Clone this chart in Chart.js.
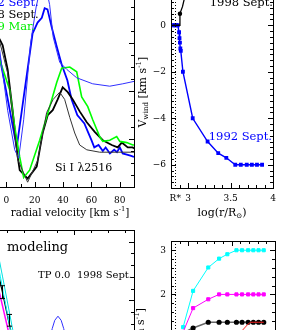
<!DOCTYPE html>
<html>
<head>
<meta charset="utf-8">
<script src="https://cdn.jsdelivr.net/npm/chart.js@4.4.1/dist/chart.umd.min.js"></script>
<style>
    html, body { margin: 0; padding: 0; background: #fff; }
    #fig { position: relative; width: 295px; height: 330px; overflow: hidden; }
    #fig canvas { position: absolute; }
</style>
</head>
<body>
<div id="fig">
    <canvas id="perfiles" width="182" height="280" style="left:-42px; top:-53px"></canvas>
    <canvas id="viento" width="151" height="248" style="left:130px; top:-20px"></canvas>
    <canvas id="modelo" width="160" height="139" style="left:-20px; top:230px"></canvas>
    <canvas id="turb" width="151" height="118" style="left:130px; top:231px"></canvas>
</div>
<script>
const rStar = 2.85;

//Perfiles Si I 2516 (observados y modelos)
const velObs92 = [-12, -4.7, 1, 7.3, 12, 18.5, 22, 25, 27, 29, 32, 35.5, 39, 43, 46, 50, 55, 57.5, 60, 62, 65, 68, 70, 73, 76, 78, 80, 82, 85, 88, 90];
const fluxObs92 = [1.43, 1.28, 0.93, 0.53, 0.93, 1.48, 1.57, 1.61, 1.69, 1.68, 1.53, 1.37, 1.22, 1.09, 0.93, 0.80, 0.73, 0.66, 0.59, 0.53, 0.55, 0.50, 0.53, 0.48, 0.51, 0.49, 0.53, 0.48, 0.47, 0.46, 0.45];
const velMod92 = [-12, -4.7, 0.9, 5.9, 8.7, 12.2, 17.1, 21, 24, 26, 28, 30.5, 33, 37.6, 42.6, 49.6, 60.9, 72.9, 82.1, 90];
const fluxMod92 = [1.51, 1.34, 0.84, 0.51, 0.44, 0.76, 1.40, 1.70, 1.86, 1.90, 1.86, 1.72, 1.45, 1.24, 1.18, 1.11, 1.06, 1.04, 1.06, 1.08];
const velObs98 = [-12, -4.7, -2.6, 0.9, 4.4, 8.0, 9.4, 15.0, 21.4, 23.5, 25.6, 29.2, 32.7, 36.2, 39.7, 43.3, 46.8, 51.7, 56.7, 62.3, 68.0, 74.3, 78.5, 81.4, 85.6, 89.1, 90];
const fluxObs98 = [1.59, 1.43, 1.38, 1.18, 0.84, 0.45, 0.34, 0.27, 0.37, 0.51, 0.65, 0.80, 0.84, 0.93, 1.03, 0.99, 0.93, 0.83, 0.74, 0.66, 0.59, 0.55, 0.53, 0.57, 0.53, 0.53, 0.52];
const velMod98 = [-12, -4.7, 0.9, 8, 15, 22, 28.4, 33, 37.6, 41.1, 44.7, 48.2, 51.7, 56.7, 65.8, 90];
const fluxMod98 = [1.58, 1.41, 1.15, 0.43, 0.24, 0.42, 0.82, 0.93, 0.99, 0.93, 0.78, 0.65, 0.55, 0.51, 0.49, 0.49];
const velObs99 = [-12, -4.7, 2.3, 5.9, 9.4, 12.2, 16.4, 23.5, 30.6, 35.5, 39, 44.7, 49.6, 53.1, 57.4, 60.9, 65.8, 68, 72.9, 77.8, 80, 84.9, 89.1, 90];
const fluxObs99 = [1.43, 1.26, 1.01, 0.70, 0.45, 0.28, 0.34, 0.59, 0.87, 1.07, 1.19, 1.20, 1.16, 0.95, 0.87, 0.76, 0.62, 0.58, 0.59, 0.62, 0.58, 0.57, 0.55, 0.55];
const velTicks = [-20, 0, 20, 40, 60, 80];

//Velocidad del viento
const logR92 = [2.82, 2.84, 2.86, 2.88, 2.895, 2.90, 2.905, 2.91, 2.915, 2.94, 3.055, 3.23, 3.355, 3.45, 3.555, 3.62, 3.69, 3.75, 3.81, 3.87];
const vWind92 = [0, 0, 0, 0, -0.3, -0.55, -0.75, -1.0, -1.1, -2, -4, -5, -5.5, -5.7, -6, -6, -6, -6, -6, -6];
const logR98 = [2.82, 2.86, 2.90, 2.905, 2.935, 2.98];
const vWind98 = [0, 0, 0, 0.5, 0.8, 1.5];
const logRTicks = [rStar, 3, 3.5, 4];
const windTicks = [-6, -4, -2, 0];

//Perfiles del modelo
const velCian1 = [0, 6.2, 12.2, 18];
const fluxCian1 = [2.17, 1.70, 1.245, 0.81];
const velCian2 = [0, 7.5, 13.5, 19];
const fluxCian2 = [2.25, 1.70, 1.25, 0.80];
const velMag = [0, 6.2, 10.4, 18];
const fluxMag = [1.90, 1.53, 1.27, 0.81];
const velNeg = [0, 7.4, 11.0, 16];
const fluxNeg = [2.05, 1.57, 1.33, 1.0];
const errNeg = [0, 0.055, 0.05, 0];
const velAzul = [32, 35, 37, 38.5, 40.4, 42.3, 43.8, 46, 49];
const fluxAzul = [0.95, 1.13, 1.26, 1.33, 1.365, 1.33, 1.26, 1.13, 0.95];

//Turbulencia
const logRMod = [2.94, 3.055, 3.23, 3.355, 3.45, 3.555, 3.62, 3.69, 3.75, 3.81, 3.87];
const turbCian = [1.26, 2.08, 2.61, 2.81, 2.91, 3, 3, 3, 3, 3, 3];
const turbMag = [1.15, 1.69, 1.89, 2, 2, 2, 2, 2, 2, 2, 2];
const turbNeg = [1.13, 1.24, 1.37, 1.37, 1.37, 1.37, 1.37, 1.37, 1.37, 1.37, 1.37];
const logRRojo = [3.45, 3.555, 3.62, 3.69, 3.72, 3.75, 3.81, 3.87];
const turbRojo = [0.8, 1.02, 1.18, 1.33, 1.37, 1.37, 1.37, 1.37];
const turbTicks = [1, 2, 3];

const FAM = '"DejaVu Serif"';
const tickFont = { family: 'DejaVu Serif', size: 9 };

function pts(xs, ys) {
    return xs.map((x, i) => ({ x: x, y: ys[i] }));
}

function linea(data, color, width, extra) {
    return Object.assign({
        data: data,
        borderColor: color,
        backgroundColor: color,
        borderWidth: width,
        pointRadius: 0,
        showLine: true,
        tension: 0
    }, extra || {});
}

function eje(min, max, extra) {
    return Object.assign({
        type: 'linear',
        min: min,
        max: max,
        grid: { display: false, drawTicks: false },
        border: { display: false },
        ticks: { display: false }
    }, extra || {});
}

function marcas(list) {
    return s => { s.ticks = list.map(v => ({ value: v })); };
}

function menos(v) {
    return String(v).replace('-', '\u2212');
}

//texto con sub/superindices
function texto(ctx, segs, x, y, size, color, align, rot) {
    ctx.save();
    ctx.translate(x, y);
    if (rot) ctx.rotate(-Math.PI / 2);
    ctx.fillStyle = color;
    ctx.textBaseline = 'middle';
    ctx.textAlign = 'left';
    let w = 0;
    const partes = segs.map(s => {
        const t = typeof s === 'string' ? s : s.t;
        const k = typeof s === 'string' ? 0 : (s.sub ? 1 : -1);
        const fs = k ? size * 0.65 : size;
        ctx.font = fs + 'px ' + FAM;
        const m = ctx.measureText(t).width;
        w += m;
        return { t: t, k: k, fs: fs, m: m };
    });
    let cx = align === 'left' ? 0 : (align === 'right' ? -w : -w / 2);
    partes.forEach(p => {
        ctx.font = p.fs + 'px ' + FAM;
        const dy = p.k === 1 ? size * 0.3 : (p.k === -1 ? -size * 0.35 : 0);
        ctx.fillText(p.t, cx, dy);
        cx += p.m;
    });
    ctx.restore();
}

function recorrer(scale, tk, cb) {
    const lo = Math.min(scale.min, scale.max), hi = Math.max(scale.min, scale.max);
    const base = tk.base || 0;
    for (let i = Math.ceil((lo - base) / tk.step - 1e-9); i <= Math.floor((hi - base) / tk.step + 1e-9); i++) {
        const v = base + i * tk.step;
        const q = (v - base) / tk.major;
        const mayor = Math.abs(q - Math.round(q)) < 1e-6;
        cb(Math.round(scale.getPixelForValue(v)) + 0.5, mayor ? 5 : 3);
    }
}

//marco, marcas hacia dentro, textos
function deco(cfg) {
    return {
        id: 'deco',
        afterDatasetsDraw(chart) {
            const ctx = chart.ctx, a = chart.chartArea;
            const xs = chart.scales.x, ys = chart.scales.y;
            const L = Math.round(a.left), R = Math.round(a.right), T = Math.round(a.top), B = Math.round(a.bottom);
            ctx.save();
            ctx.strokeStyle = '#000';
            ctx.lineWidth = 1;
            if (cfg.dot) {
                const px = Math.round(xs.getPixelForValue(rStar)) + 0.5;
                ctx.setLineDash([1, 2]);
                ctx.beginPath();
                ctx.moveTo(px, T);
                ctx.lineTo(px, B);
                ctx.stroke();
                ctx.setLineDash([]);
            }
            ctx.strokeRect(L + 0.5, T + 0.5, R - L, B - T);
            ctx.beginPath();
            recorrer(xs, cfg.xt, (p, len) => {
                ctx.moveTo(p, B); ctx.lineTo(p, B - len);
                ctx.moveTo(p, T); ctx.lineTo(p, T + len);
            });
            recorrer(ys, cfg.yt, (p, len) => {
                ctx.moveTo(L, p); ctx.lineTo(L + len, p);
                ctx.moveTo(R, p); ctx.lineTo(R - len, p);
            });
            ctx.stroke();
            if (cfg.err) {
                const e = cfg.err;
                ctx.beginPath();
                e.x.forEach((v, i) => {
                    if (!e.e[i]) return;
                    const px = Math.round(xs.getPixelForValue(v)) + 0.5;
                    const y1 = ys.getPixelForValue(e.y[i] + e.e[i]);
                    const y2 = ys.getPixelForValue(e.y[i] - e.e[i]);
                    ctx.moveTo(px, y1); ctx.lineTo(px, y2);
                    ctx.moveTo(px - 2.5, y1); ctx.lineTo(px + 2.5, y1);
                    ctx.moveTo(px - 2.5, y2); ctx.lineTo(px + 2.5, y2);
                });
                ctx.stroke();
            }
            ctx.restore();
            cfg.texts.forEach(t => {
                texto(ctx, t.s, t.x - cfg.ox, t.y - cfg.oy, t.size, t.color || '#000', t.align || 'center', t.rot);
            });
        }
    };
}

const base = {
    responsive: false,
    animation: false,
    devicePixelRatio: 1,
    layout: { padding: { left: 0, right: 6, top: 0, bottom: 0 } },
    plugins: { legend: { display: false }, tooltip: { enabled: false } }
};

//Grafica de perfiles
new Chart(document.getElementById('perfiles'), {
    type: 'scatter',
    data: {
        datasets: [
            linea(pts(velMod98, fluxMod98), '#333333', 1),
            linea(pts(velMod92, fluxMod92), '#3030ff', 1),
            linea(pts(velObs99, fluxObs99), '#00ff00', 1.6),
            linea(pts(velObs98, fluxObs98), '#000000', 1.8),
            linea(pts(velObs92, fluxObs92), '#0000ff', 1.8)
        ]
    },
    options: Object.assign({}, base, {
        scales: {
            x: eje(-20, 90, {
                ticks: { display: true, font: tickFont, color: '#000', padding: 8, autoSkip: false, maxRotation: 0 },
                afterBuildTicks: marcas(velTicks),
                afterFit: s => { s.height = 40; }
            }),
            y: eje(0.2, 2.2, { afterFit: s => { s.width = 20; } })
        }
    }),
    plugins: [deco({
        ox: -42, oy: -53,
        xt: { step: 10, major: 20 },
        yt: { step: 0.1, major: 0.4, base: 0.2 },
        texts: [
            { s: ['1992 Sept.'], x: -24.5, y: 3, size: 11.5, color: '#0000ff', align: 'left' },
            { s: ['1998 Sept.'], x: -24.5, y: 15, size: 11.5, align: 'left' },
            { s: ['1999 Mar.'], x: -24.5, y: 27, size: 11.5, color: '#00ee00', align: 'left' },
            { s: ['Si I \u03bb2516'], x: 55, y: 168, size: 11, align: 'left' },
            { s: ['radial velocity [km s', { t: '-1' }, ']'], x: 70, y: 213, size: 10.5 }
        ]
    })]
});

//Grafica del viento
new Chart(document.getElementById('viento'), {
    type: 'scatter',
    data: {
        datasets: [
            linea(pts(logR98, vWind98), '#000000', 1.3, { pointRadius: [0, 0, 0, 1.6, 0, 0] }),
            linea(pts(logR92, vWind92), '#0000ff', 1.4, { pointRadius: 1.7, pointStyle: 'rect' })
        ]
    },
    options: Object.assign({}, base, {
        scales: {
            x: eje(2.8, 4.0, {
                ticks: {
                    display: true, font: tickFont, color: '#000', padding: 5, autoSkip: false, maxRotation: 0,
                    callback: v => (v === rStar ? 'R*' : String(v))
                },
                afterBuildTicks: marcas(logRTicks),
                afterFit: s => { s.height = 40; }
            }),
            y: eje(-7, 1.5, {
                ticks: { display: true, font: tickFont, color: '#000', padding: 5, callback: menos },
                afterBuildTicks: marcas(windTicks),
                afterFit: s => { s.width = 41; }
            })
        }
    }),
    plugins: [deco({
        ox: 130, oy: -20, dot: true,
        xt: { step: 0.1, major: 0.5 },
        yt: { step: 0.25, major: 2 },
        texts: [
            { s: ['1998 Sept.'], x: 273, y: 3, size: 11.5, align: 'right' },
            { s: ['1992 Sept.'], x: 272, y: 137, size: 11.5, color: '#0000ff', align: 'right' },
            { s: ['V', { t: 'wind', sub: true }, ' [km s', { t: '-1' }, ']'], x: 143, y: 92, size: 11, rot: true },
            { s: ['log(r/R', { t: '\u2299', sub: true }, ')'], x: 222, y: 213, size: 11 }
        ]
    })]
});

//Grafica del modelo
new Chart(document.getElementById('modelo'), {
    type: 'scatter',
    data: {
        datasets: [
            linea(pts(velCian1, fluxCian1), '#00ffff', 1),
            linea(pts(velCian2, fluxCian2), '#00e0e0', 1),
            linea(pts(velMag, fluxMag), '#ff00ff', 1.5),
            linea(pts(velNeg, fluxNeg), '#000000', 1.3),
            linea(pts(velAzul, fluxAzul), '#3030ff', 1)
        ]
    },
    options: Object.assign({}, base, {
        scales: {
            x: eje(0, 85.6, { afterFit: s => { s.height = 10; } }),
            y: eje(1.0, 2.1, { afterFit: s => { s.width = 10; } })
        }
    }),
    plugins: [deco({
        ox: -20, oy: 230,
        xt: { step: 10, major: 50 },
        yt: { step: 0.1, major: 0.5 },
        err: { x: velNeg, y: fluxNeg, e: errNeg },
        texts: [
            { s: ['modeling'], x: 7, y: 248, size: 13, align: 'left' },
            { s: ['TP 0.0'], x: 38, y: 275, size: 10, align: 'left' },
            { s: ['1998 Sept.'], x: 132, y: 275, size: 10, align: 'right' }
        ]
    })]
});

//Grafica de turbulencia
new Chart(document.getElementById('turb'), {
    type: 'scatter',
    data: {
        datasets: [
            linea(pts(logRRojo, turbRojo), '#ff2020', 1),
            linea(pts(logRMod, turbNeg), '#666666', 1.6, { pointRadius: 1.8, backgroundColor: '#000', pointBorderColor: '#000' }),
            linea(pts(logRMod, turbMag), '#ff00ff', 1, { pointRadius: 2.2, pointStyle: 'rect' }),
            linea(pts(logRMod, turbCian), '#00ffff', 1, { pointRadius: 2.2, pointStyle: 'rect' })
        ]
    },
    options: Object.assign({}, base, {
        scales: {
            x: eje(2.8, 4.0, { afterFit: s => { s.height = 10; } }),
            y: eje(1.0, 3.2, {
                ticks: { display: true, font: tickFont, color: '#000', padding: 5 },
                afterBuildTicks: marcas(turbTicks),
                afterFit: s => { s.width = 41; }
            })
        }
    }),
    plugins: [deco({
        ox: 130, oy: 231, dot: true,
        xt: { step: 0.1, major: 0.5 },
        yt: { step: 0.2, major: 1 },
        texts: [
            { s: ['V', { t: 'turb', sub: true }, ' [km s', { t: '-1' }, ']'], x: 141, y: 308, size: 11, align: 'right', rot: true }
        ]
    })]
});
</script>
</body>
</html>
